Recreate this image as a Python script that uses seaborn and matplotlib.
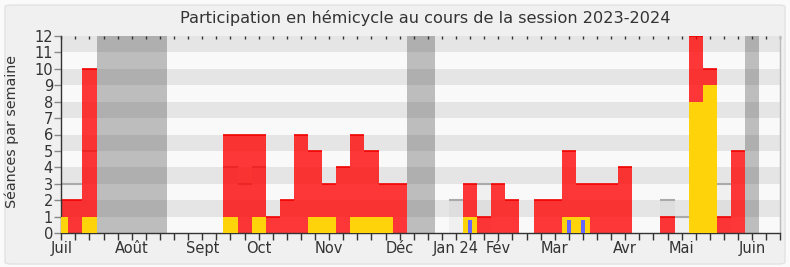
import numpy as np
import pandas as pd
import matplotlib
matplotlib.use("Agg")
import matplotlib.pyplot as plt
import seaborn as sns
from matplotlib.patches import FancyBboxPatch

# ---- data (one value per week of the session) ----
semaines = list(range(52))
presences = [2, 2, 10, 0, 0, 0, 0, 0, 0, 0, 0, 0,
             6, 6, 6, 1, 2, 6, 5, 3, 4, 6, 5, 3, 3,
             0, 0, 0, 0, 3, 1, 3, 2, 0, 2, 2, 5, 3, 3, 3, 4, 0, 0, 1, 0, 12, 10, 1, 5, 0, 0, 0]
interventions = [1, 0, 1, 0, 0, 0, 0, 0, 0, 0, 0, 0,
                 1, 0, 1, 0, 0, 0, 1, 1, 0, 1, 1, 1, 0,
                 0, 0, 0, 0, 1, 0, 0, 0, 0, 0, 0, 1, 1, 0, 0, 0, 0, 0, 0, 0, 8, 9, 0, 0, 0, 0, 0]
questions = [0] * 29 + [1] + [0] * 6 + [1, 1] + [0] * 14
mediane = [3, 3, 5, 0, 0, 0, 0, 0, 0, 0, 0, 0,
           4, 3, 4, 0, 0, 0, 0, 0, 0, 0, 0, 0, 0,
           0, 0, 0, 2, 0, 3, 0, 0, 0, 0, 0, 0, 0, 0, 0, 0, 0, 0, 2, 1, 0, 0, 3, 0, 0, 0, 0]
vacances = [3, 4, 5, 6, 7, 25, 26, 49]
mois = ["Juil", "Août", "Sept", "Oct", "Nov", "Déc", "Jan 24", "Fév", "Mar", "Avr", "Mai", "Juin"]
mois_semaines = [0, 5, 10, 14, 19, 24, 28, 31, 35, 40, 44, 49]
ymax = 12

df = pd.DataFrame({"semaine": semaines, "presences": presences,
                   "interventions": interventions, "questions": questions,
                   "mediane": mediane})

sns.set_theme(style="white")
plt.rcParams["font.family"] = ["DejaVu Sans"]

W, H = 790, 267
fig = plt.figure(figsize=(W / 100, H / 100), dpi=100)
fig.patch.set_facecolor("#fafafa")
frame = FancyBboxPatch((5 / W, 3 / H), 780 / W, 259 / H,
                       boxstyle="round,pad=0,rounding_size=0.008",
                       transform=fig.transFigure, facecolor="#f0f0f0",
                       edgecolor="#e2e2e2", linewidth=1, zorder=-10)
fig.patches.append(frame)

ax = fig.add_axes([61.3 / W, 34 / H, 719 / W, 197 / H])
ax.set_zorder(5)
ax.set_facecolor("#f9f9f9")

# alternating horizontal bands
for k in range(1, ymax, 2):
    ax.axhspan(k, k + 1, color="#e5e5e5", lw=0, zorder=0)

# median (light boxes with gray top line)
sns.barplot(data=df, x="semaine", y="mediane", native_scale=True, width=1,
            color="#a0a0a0", saturation=1, alpha=0.09, linewidth=0,
            errorbar=None, ax=ax, zorder=1)
pos = df[df["mediane"] > 0]
ax.hlines(pos["mediane"], pos["semaine"] - 0.5, pos["semaine"] + 0.5,
          color="#aaaaaa", lw=1.5, zorder=1.5)

# vacation periods
runs = []
for w in sorted(vacances):
    if runs and w == runs[-1][1] + 1:
        runs[-1][1] = w
    else:
        runs.append([w, w])
for a, b in runs:
    ax.axvspan(a - 0.5, b + 0.5, color="#343434", alpha=0.3, lw=0, zorder=1.2)

# presences (red)
sns.barplot(data=df, x="semaine", y="presences", native_scale=True, width=1,
            color="#ff0000", saturation=1, alpha=0.78, linewidth=0,
            errorbar=None, ax=ax, zorder=2)
pr = df[df["presences"] > 0]
ax.hlines(pr["presences"], pr["semaine"] - 0.5, pr["semaine"] + 0.5,
          color="#f00000", lw=1.2, zorder=2.2)

# interventions (yellow)
sns.barplot(data=df, x="semaine", y="interventions", native_scale=True, width=1,
            color="#ffd30a", saturation=1, linewidth=0,
            errorbar=None, ax=ax, zorder=3)

# questions orales (blue), drawn slightly shorter than a full unit
dq = df.assign(q=df["questions"] * 0.82)
sns.barplot(data=dq, x="semaine", y="q", native_scale=True, width=0.27,
            color="#6666ff", saturation=1, linewidth=0,
            errorbar=None, ax=ax, zorder=4)

ax.set_xlim(0, 51)
ax.set_ylim(0, ymax)
ax.set_xlabel("")
ax.set_ylabel("")

labels = [""] * len(semaines)
for m, s in zip(mois, mois_semaines):
    labels[s] = m
ax.set_xticks(semaines)
ax.set_xticklabels(labels)
ax.set_yticks(range(0, ymax + 1))
ax.set_yticklabels([str(v) for v in range(0, ymax + 1)])
ax.tick_params(axis="x", bottom=True, length=5, width=1, color="#333333",
               labelsize=10.5, labelcolor="#333333", pad=1)
ax.tick_params(axis="y", left=True, length=5, width=1, color="#888888",
               labelsize=10.5, labelcolor="#333333", pad=1)

top = ax.secondary_xaxis("top")
top.set_xticks(semaines)
top.set_xticklabels([])
top.tick_params(direction="in", length=2, width=1, color="#333333")
top.spines["top"].set_visible(False)

for s in ["left", "bottom"]:
    ax.spines[s].set_color("#333333")
    ax.spines[s].set_linewidth(1)
ax.spines["top"].set_visible(False)
ax.spines["right"].set_color("#bbbbbb")
ax.spines["right"].set_linewidth(1)

fig.text(425 / W, 1 - 18 / H, "Participation en hémicycle au cours de la session 2023-2024",
         ha="center", va="center", fontsize=11.6, color="#333333")
fig.text(12 / W, 1 - 132 / H, "Séances par semaine", rotation=90,
         ha="center", va="center", fontsize=10.3, color="#333333")

fig.savefig("out.png", dpi=100, facecolor=fig.get_facecolor())
